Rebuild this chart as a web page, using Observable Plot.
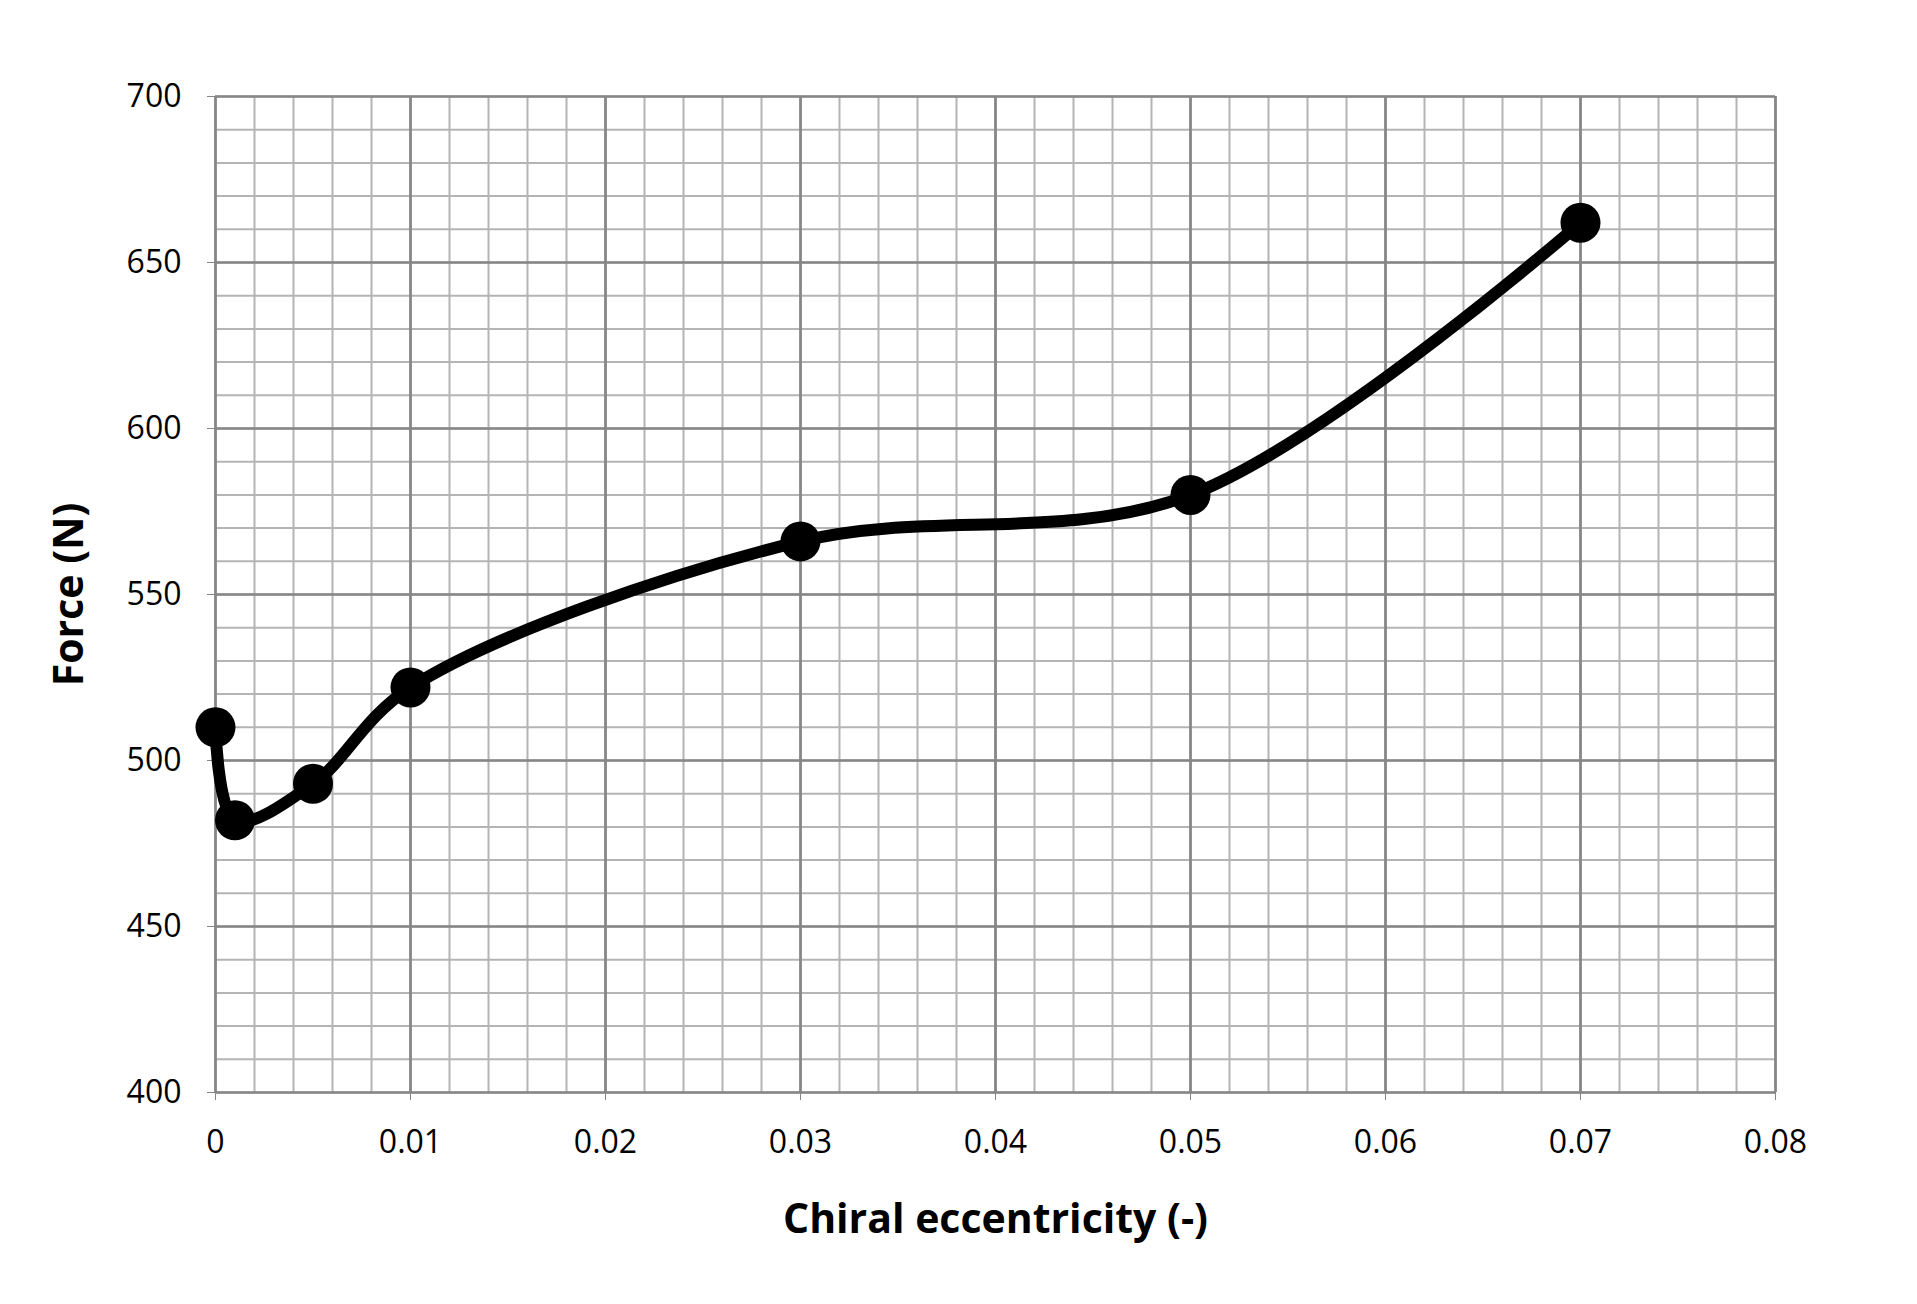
<!DOCTYPE html>
<html><head><meta charset="utf-8">
<script src="https://cdn.jsdelivr.net/npm/d3@7"></script>
<script src="https://cdn.jsdelivr.net/npm/@observablehq/plot@0.6"></script>
<style>body{margin:0;background:#fff}</style>
</head><body><div id="chart"></div>
<script>
const ecc = [0, 0.001, 0.005, 0.01, 0.03, 0.05, 0.07];
const force = [510, 482, 493, 522, 566, 580, 662];
const xMajor = [0, 0.01, 0.02, 0.03, 0.04, 0.05, 0.06, 0.07, 0.08];
const yMajor = [400, 450, 500, 550, 600, 650, 700];
const xMinor = d3.range(0, 81, 2).map(v => v / 1000);
const yMinor = d3.range(400, 701, 10);

const data = ecc.map((x, i) => ({x, y: force[i]}));

const chart = Plot.plot({
  width: 1917, height: 1304,
  marginLeft: 215, marginRight: 142, marginTop: 96, marginBottom: 212,
  style: {fontFamily: "'Open Sans', sans-serif", fontSize: "32px", color: "#000", background: "#fff"},
  x: {domain: [0, 0.08]},
  y: {domain: [400, 700]},
  marks: [
    Plot.gridX(xMinor, {stroke: "#b4b4b4", strokeOpacity: 1, strokeWidth: 2}),
    Plot.gridY(yMinor, {stroke: "#b4b4b4", strokeOpacity: 1, strokeWidth: 2}),
    Plot.gridX(xMajor, {stroke: "#868686", strokeOpacity: 1, strokeWidth: 2.7}),
    Plot.gridY(yMajor, {stroke: "#868686", strokeOpacity: 1, strokeWidth: 2.7}),
    Plot.axisX(xMajor, {tickSize: 8, tickPadding: 30, stroke: "#868686", fontSize: 32,
      tickFormat: d => d === 0 ? "0" : d3.format(".2f")(d),
      label: "Chiral eccentricity (-)", labelAnchor: "center", labelArrow: "none", labelOffset: 140}),
    Plot.axisY(yMajor, {tickSize: 8, tickPadding: 26, stroke: "#868686", fontSize: 32,
      label: "Force (N)", labelAnchor: "center", labelArrow: "none", labelOffset: 162}),
    Plot.line(data, {x: "x", y: "y", curve: "catmull-rom", stroke: "#000", strokeWidth: 12}),
    Plot.dot(data, {x: "x", y: "y", r: 20, fill: "#000"})
  ]
});
d3.select(chart).selectAll("[aria-label$='axis label'] text, [aria-label$='axis label']")
  .style("font-size", "41px").style("font-weight", "bold");
document.getElementById("chart").append(chart);
</script></body></html>
